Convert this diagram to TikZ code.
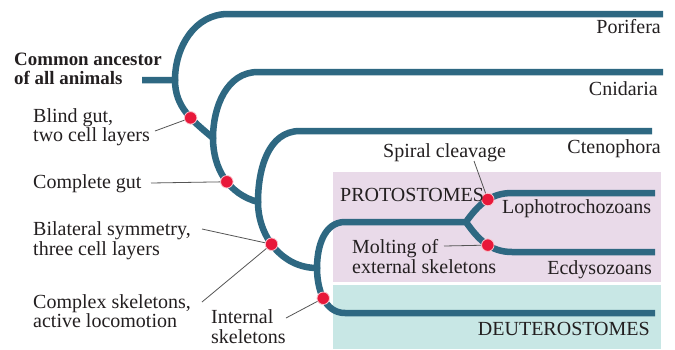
\documentclass[tikz,border=0pt]{standalone}
\usepackage{fontspec}
\setmainfont{Liberation Serif}
\definecolor{treec}{RGB}{46,104,130}
\definecolor{dotc}{RGB}{232,24,58}
\definecolor{protoc}{RGB}{233,218,233}
\definecolor{deutc}{RGB}{200,231,229}
\definecolor{leadc}{RGB}{85,85,85}
\definecolor{txtc}{RGB}{35,31,32}
\begin{document}
\begin{tikzpicture}[x=1pt,y=1pt,
  branch/.style={draw=treec,line width=6.5pt,line join=round},
  trait/.style={circle,fill=dotc,draw=white!75!dotc,line width=0.8pt,minimum size=12.5pt,inner sep=0pt},
  leader/.style={draw=leadc,line width=0.8pt},
  lbl/.style={anchor=base west,inner sep=0pt,text=txtc,font=\fontsize{20}{22}\selectfont},
  lblr/.style={anchor=base east,inner sep=0pt,text=txtc,font=\fontsize{20}{22}\selectfont},
  lblb/.style={anchor=base west,inner sep=0pt,text=txtc,font=\fontsize{18.9}{20}\selectfont\bfseries},
]
\useasboundingbox (0,0) rectangle (675,-349);
\fill[white] (0,0) rectangle (675,-349);
% clade boxes
\fill[protoc] (333,-172) rectangle (661,-282);
\fill[deutc] (333,-285) rectangle (661,-349);

% tree coordinates
\coordinate (stub) at (142,-80);
\coordinate (J0) at (175,-80);
\coordinate (J1) at (213,-138);
\coordinate (J2) at (258,-202);
\coordinate (J3) at (317,-268);
\coordinate (J4) at (466,-222);
\coordinate (porA) at (228,-14);  \coordinate (porB) at (663,-14);
\coordinate (cniA) at (258,-72);  \coordinate (cniB) at (663,-72);
\coordinate (cteA) at (300,-131); \coordinate (cteB) at (652,-131);
\coordinate (proA) at (345,-222);
\coordinate (lopA) at (512,-193); \coordinate (lopB) at (655,-193);
\coordinate (ecdA) at (512,-252); \coordinate (ecdB) at (655,-252);
\coordinate (deuA) at (345,-313); \coordinate (deuB) at (655,-313);

% branches
\draw[branch] (stub) -- (J0) to[out=90,in=180] (porA) -- (porB);
\draw[branch] (J0) to[out=-90,in=140] coordinate[pos=0.6] (t1) (J1) to[out=90,in=180] (cniA) -- (cniB);
\draw[branch] (J1) to[out=-90,in=165] coordinate[pos=0.55] (t2) (J2) to[out=90,in=180] (cteA) -- (cteB);
\draw[branch] (J2) to[out=-90,in=180] coordinate[pos=0.45] (t3) (J3) to[out=90,in=180] (proA) -- (J4)
      to[out=55,in=180] coordinate[pos=0.55] (t5) (lopA) -- (lopB);
\draw[branch] (J3) to[out=-90,in=180] coordinate[pos=0.5] (t4) (deuA) -- (deuB);
\draw[branch] (J4) to[out=-55,in=180] coordinate[pos=0.55] (t6) (ecdA) -- (ecdB);
\foreach \j in {J0,J1,J2,J3,J4} \fill[treec] (\j) circle (3.25pt);

% trait dots
\node[trait] (d1) at (t1) {};
\node[trait] (d2) at (t2) {};
\node[trait] (d3) at (t3) {};
\node[trait] (d4) at (t4) {};
\node[trait] (d5) at (t5) {};
\node[trait] (d6) at (t6) {};

% labels
\node[lblb] (anc1) at (14,-65) {Common ancestor};
\node[lblb] (anc2) at (14,-84) {of all animals};
\node[lbl] (bg1) at (33,-122) {Blind gut,};
\node[lbl] (bg2) at (33,-141) {two cell layers};
\node[lbl] (cg) at (33,-188) {Complete gut};
\node[lbl] (bs1) at (33,-235) {Bilateral symmetry,};
\node[lbl] (bs2) at (33,-255) {three cell layers};
\node[lbl] (cs1) at (33,-308) {Complex skeletons,};
\node[lbl] (cs2) at (33,-327) {active locomotion};
\node[lbl] (is1) at (211,-323) {Internal};
\node[lbl] (is2) at (211,-343) {skeletons};
\node[lblr] (por) at (661,-33) {Porifera};
\node[lblr] (cni) at (658,-95) {Cnidaria};
\node[lblr] (cte) at (661,-153) {Ctenophora};
\node[lbl] (spc) at (383,-157) {Spiral cleavage};
\node[lbl] (pro) at (340,-201) {PROTOSTOMES};
\node[lbl] (lop) at (502,-213) {Lophotrochozoans};
\node[lbl] (mo1) at (352,-253) {Molting of};
\node[lbl] (mo2) at (352,-273) {external skeletons};
\node[lblr] (ecd) at (652,-274) {Ecdysozoans};
\node[lblr] (deu) at (650,-335) {DEUTEROSTOMES};

% leader lines
\coordinate (l1) at (155,-131);
\coordinate (l2) at (151,-183);
\coordinate (l3) at (202,-229);
\coordinate (l4) at (202,-302);
\coordinate (l5) at (286,-318);
\coordinate (l6) at (474,-161);
\coordinate (l7) at (444,-246);
\draw[leader] (l1) -- (d1);
\draw[leader] (l2) -- (d2);
\draw[leader] (l3) -- (d3);
\draw[leader] (l4) -- (d3);
\draw[leader] (l5) -- (d4);
\draw[leader] (l6) -- (d5);
\draw[leader] (l7) -- (d6);
\end{tikzpicture}
\end{document}
